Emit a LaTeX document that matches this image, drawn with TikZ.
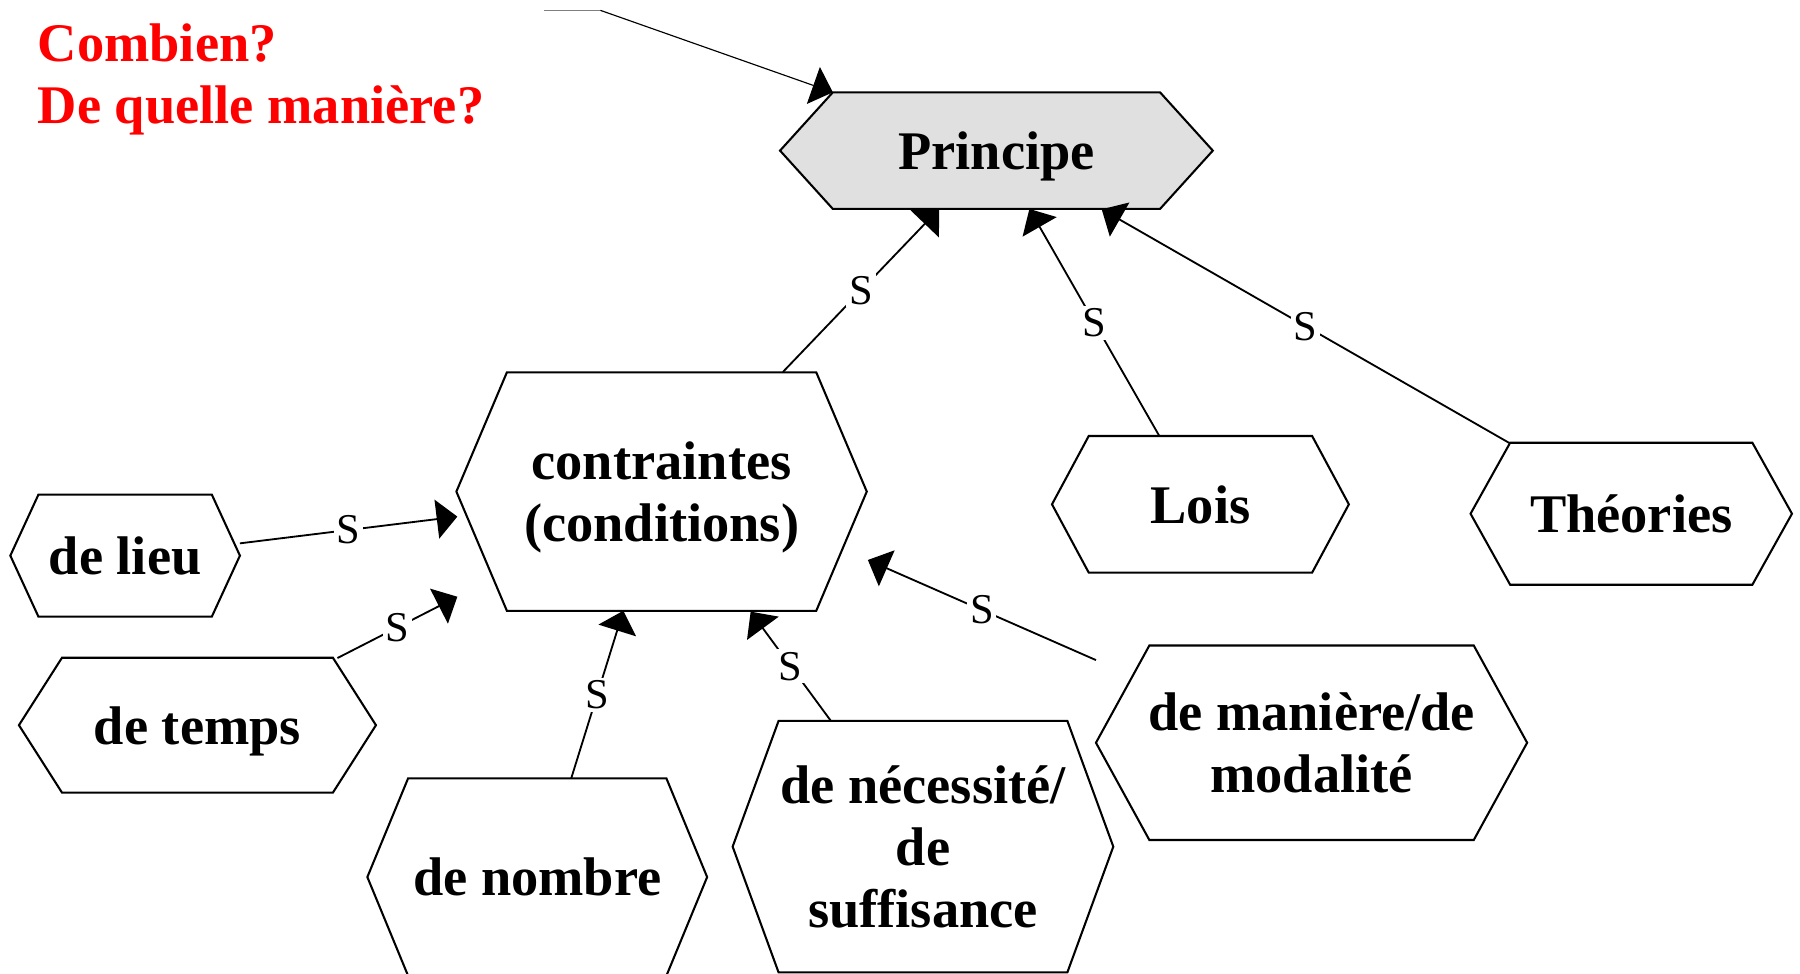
\documentclass[tikz,border=0pt]{standalone}
\usepackage{fontspec}
\setmainfont{Liberation Serif}
\usetikzlibrary{arrows.meta,calc}
\pgfdeclarelayer{bglayer}
\pgfdeclarelayer{hexlayer}
\pgfsetlayers{bglayer,hexlayer,main}
\definecolor{pgray}{HTML}{E0E0E0}
\definecolor{qred}{HTML}{FF0000}
\tikzset{
  hexbox/.style={inner sep=0pt, outer sep=0pt, align=center, text depth=0pt,
    font=\fontsize{23.7pt}{27pt}\selectfont\bfseries},
  hexline/.style={draw=black, line width=0.9pt, line join=miter},
  conn/.style={draw=black, line width=0.8pt, -{Triangle[length=9pt,width=17pt]}},
  thinconn/.style={draw=black, line width=0.5pt, -{Triangle[length=9pt,width=17pt]}},
  slabel/.style={fill=white, inner sep=1.2pt, font=\fontsize{18.5pt}{20pt}\selectfont},
  qtext/.style={text=qred, align=left, inner sep=0pt, outer sep=0pt, text depth=0pt,
    font=\fontsize{23.7pt}{27pt}\selectfont\bfseries}
}
% name, cx, cy, w, h, d, text, fill
\newcommand\hexnode[8]{%
  \node[hexbox, minimum width=#4*0.5pt, minimum height=#5*0.5pt] (#1) at (#2,#3) {#7};
  \begin{pgfonlayer}{hexlayer}
    \draw[hexline, fill=#8] (#1.west) -- ($(#1.north west)+(#6,0)$) -- ($(#1.north east)+(-#6,0)$)
      -- (#1.east) -- ($(#1.south east)+(-#6,0)$) -- ($(#1.south west)+(#6,0)$) -- cycle;
  \end{pgfonlayer}}
\begin{document}
\begin{tikzpicture}[x=0.5pt, y=-0.5pt]
\useasboundingbox (0,0) rectangle (1568,848);
\begin{pgfonlayer}{bglayer}
  \fill[white] (0,0) rectangle (1568,848);
\end{pgfonlayer}

\hexnode{princ}{868}{131.2}{377}{101.6}{46}{Principe}{pgray}
\hexnode{contr}{576.3}{428.2}{357.5}{207.7}{44}{contraintes\\(conditions)}{white}
\hexnode{lieu}{109}{484}{200}{106.4}{24.5}{de lieu}{white}
\hexnode{temps}{172}{631.7}{311}{117.5}{37.5}{de temps}{white}
\hexnode{nombre}{468}{764}{296}{172}{35.5}{de nombre}{white}
\hexnode{necess}{804}{737.5}{331.6}{219}{40}{de nécessité/\\de\\suffisance}{white}
\hexnode{maniere}{1142.5}{647}{375.6}{169.4}{46.5}{de manière/de\\modalité}{white}
\hexnode{lois}{1045.7}{439.3}{258.6}{119}{32}{Lois}{white}
\hexnode{theo}{1421}{447.5}{280}{123.7}{34.5}{Théories}{white}

\node[qtext, anchor=west] (q) at (33,64) {Combien?\\De quelle manière?};
\coordinate (qa) at (474,9);
\coordinate (qb) at (523,9);
\draw[gray, line width=0.6pt] (qa) -- (qb);
\draw[thinconn] (qb) -- ($(princ.north west)+(46,0)$);

\draw[conn] ($(contr.center)+(105.7,-104.2)$) -- node[slabel]{S} ($(princ.center)+(-50,50.8)$);
\draw[conn] ($(lois.center)+(-35.7,-59.3)$) -- node[slabel]{S} ($(princ.center)+(28.7,50.8)$);
\draw[conn] ($(theo.center)+(-106,-61.5)$) -- node[slabel]{S} ($(princ.center)+(91.7,51.1)$);
\draw[conn] ($(lieu.center)+(100,-10.7)$) -- node[slabel]{S} ($(contr.center)+(-177.9,21.8)$);
\draw[conn] ($(temps.center)+(122,-58.5)$) -- node[slabel]{S} ($(contr.center)+(-177.9,91.6)$);
\draw[conn] ($(nombre.center)+(29.6,-86)$) -- node[slabel]{S} ($(contr.center)+(-33.3,103.8)$);
\draw[conn] ($(necess.center)+(-80.2,-109.5)$) -- node[slabel]{S} ($(contr.center)+(77.6,104.6)$);
\draw[conn] ($(maniere.center)+(-187.8,-72)$) -- node[slabel]{S} ($(contr.center)+(179.7,59.6)$);
\end{tikzpicture}
\end{document}
